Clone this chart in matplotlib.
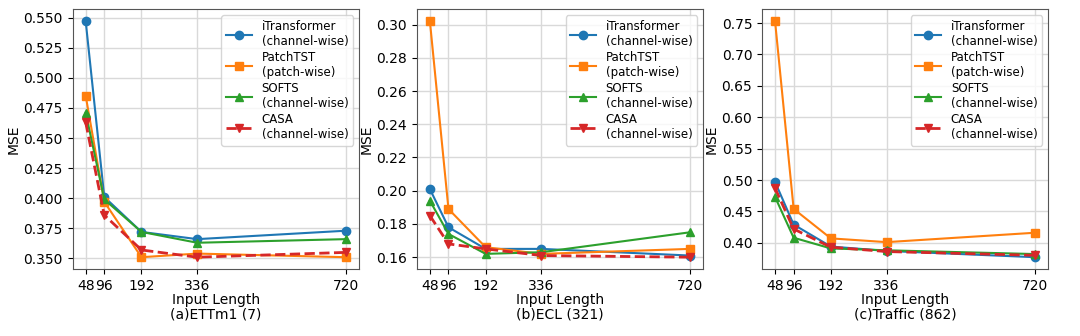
import matplotlib
matplotlib.use('Agg')
import matplotlib.pyplot as plt
import numpy as np

# input lengths
lengths = [48, 96, 192, 336, 720]

# ETTm1 (7)
ettm1_itrans = [0.547, 0.401, 0.372, 0.366, 0.373]
ettm1_patch = [0.485, 0.397, 0.351, 0.354, 0.351]
ettm1_softs = [0.471, 0.399, 0.372, 0.363, 0.366]
ettm1_casa = [0.463, 0.386, 0.357, 0.351, 0.355]

# ECL (321)
ecl_itrans = [0.201, 0.178, 0.165, 0.165, 0.161]
ecl_patch = [0.302, 0.189, 0.166, 0.162, 0.165]
ecl_softs = [0.194, 0.174, 0.162, 0.163, 0.175]
ecl_casa = [0.185, 0.168, 0.165, 0.161, 0.160]

# Traffic (862)
traffic_itrans = [0.497, 0.429, 0.394, 0.387, 0.377]
traffic_patch = [0.753, 0.454, 0.407, 0.401, 0.416]
traffic_softs = [0.473, 0.408, 0.391, 0.388, 0.382]
traffic_casa = [0.487, 0.422, 0.393, 0.386, 0.380]

titles = ['(a)ETTm1 (7)', '(b)ECL (321)', '(c)Traffic (862)']
panels = [
    (ettm1_itrans, ettm1_patch, ettm1_softs, ettm1_casa),
    (ecl_itrans, ecl_patch, ecl_softs, ecl_casa),
    (traffic_itrans, traffic_patch, traffic_softs, traffic_casa),
]

fig = plt.figure(figsize=(10.8, 3.36), dpi=100)
lefts = [0.0673, 0.386, 0.7056]

for i in range(3):
    ax = fig.add_axes([lefts[i], 0.1994, 0.265, 0.7726])
    it, pt, so, ca = panels[i]
    ax.plot(lengths, it, marker='o', color='#1f77b4', markersize=6, label='iTransformer\n(channel-wise)')
    ax.plot(lengths, pt, marker='s', color='#ff7f0e', markersize=6, label='PatchTST\n(patch-wise)')
    ax.plot(lengths, so, marker='^', color='#2ca02c', markersize=6, label='SOFTS\n(channel-wise)')
    ax.plot(lengths, ca, marker='v', color='#d62728', markersize=6, linestyle='--', linewidth=2,
            label='CASA\n(channel-wise)')
    ax.set_xticks(lengths)
    ax.set_xticklabels([str(l) for l in lengths], fontsize=10)
    ax.tick_params(axis='y', labelsize=10)
    ax.grid(True, color='#d9d9d9', linewidth=1)
    ax.set_axisbelow(True)
    ax.set_ylabel('MSE', fontsize=10, labelpad=2)
    ax.set_xlabel('Input Length\n' + titles[i], fontsize=10, linespacing=1.05, labelpad=0)
    for s in ax.spines.values():
        s.set_color('#555555')
    ax.legend(loc='upper right', fontsize=8.5, handlelength=2.2, labelspacing=0.25)

fig.savefig('out.png', dpi=100)
